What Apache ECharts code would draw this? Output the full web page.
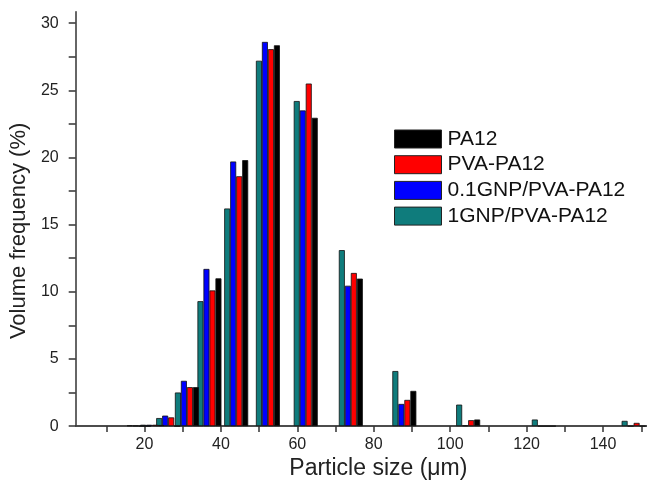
<!DOCTYPE html>
<html>
<head>
<meta charset="utf-8">
<script src="https://cdn.jsdelivr.net/npm/echarts@6/dist/echarts.min.js"></script>
<style>
html,body{margin:0;padding:0;background:#fff;}
#chart{width:647px;height:485px;}
</style>
</head>
<body>
<div id="chart"></div>
<script>
// Particle size bin centres (µm)
const sizes = [18.5, 22, 26.2, 31.1, 37, 44, 52.3, 62.2, 74, 88, 104.7, 124.5, 148];
// Volume frequency (%)
const pa12   = [0,    0.08, 0,    2.9,  11.0, 19.8, 28.35, 22.95, 10.98, 2.62, 0.49, 0,    0];
const pvaPa12 = [0,   0.1,  0.65, 2.9,  10.1, 18.6, 28.06, 25.5,  11.4,  1.95, 0.44, 0,    0.24];
const gnp01  = [0.03, 0.1,  0.78, 3.37, 11.7, 19.7, 28.6,  23.5,  10.45, 1.65, 0.05, 0,    0];
const gnp1   = [0.05, 0.1,  0.6,  2.5,  9.3,  16.2, 27.2,  24.2,  13.1,  4.1,  1.6,  0.49, 0.39];

const xTicks = [10, 20, 30, 40, 50, 60, 70, 80, 90, 100, 110, 120, 130, 140, 150];
const xLabels = [20, 40, 60, 80, 100, 120, 140];
const yTicks = [0, 2.5, 5, 7.5, 10, 12.5, 15, 17.5, 20, 22.5, 25, 27.5, 30];
const yLabels = [0, 5, 10, 15, 20, 25, 30];

const names = ['PA12', 'PVA-PA12', '0.1GNP/PVA-PA12', '1GNP/PVA-PA12'];
const colors = {'PA12': '#000000', 'PVA-PA12': '#ff0000', '0.1GNP/PVA-PA12': '#0000ff', '1GNP/PVA-PA12': '#0f7c7c'};
const seriesOrder = [['1GNP/PVA-PA12', gnp1], ['0.1GNP/PVA-PA12', gnp01], ['PVA-PA12', pvaPa12], ['PA12', pa12]];

const font = 'Liberation Sans, Arial, sans-serif';
const chart = echarts.init(document.getElementById('chart'), null, {renderer: 'canvas'});

chart.setOption({
  animation: false,
  backgroundColor: '#fff',
  textStyle: {fontFamily: font},
  grid: {left: 71, right: 0, top: 11.7, bottom: 50, containLabel: false},
  legend: {
    orient: 'vertical', left: 394, top: 128.5, padding: 0,
    itemWidth: 47, itemHeight: 18, itemGap: 4.7,
    icon: 'rect',
    data: names,
    textStyle: {fontSize: 21, lineHeight: 21, color: '#111', fontFamily: font, padding: [0, 0, 0, 1]},
    itemStyle: {borderColor: '#222', borderWidth: 1}
  },
  xAxis: [{
    type: 'value', min: 2, max: 151.5,
    name: 'Particle size (\u03bcm)', nameLocation: 'middle', nameGap: 29,
    nameTextStyle: {fontSize: 23, color: '#222', fontFamily: font, padding: [0, 0, 0, 34]},
    axisLine: {show: true, onZero: false, lineStyle: {color: '#333', width: 1.5}},
    axisTick: {show: true, inside: false, length: 6, customValues: xTicks, lineStyle: {color: '#333', width: 1.5}},
    axisLabel: {customValues: xLabels, fontSize: 16, color: '#222', margin: 10, fontFamily: font},
    splitLine: {show: false}
  }, {
    type: 'value', position: 'top', min: 2, max: 151.5,
    axisLine: {show: true, lineStyle: {color: '#444', width: 1.5}},
    axisTick: {show: false}, axisLabel: {show: false}, splitLine: {show: false}
  }],
  yAxis: {
    type: 'value', min: 0, max: 30.85,
    name: 'Volume frequency (%)', nameLocation: 'middle', nameGap: 37,
    nameTextStyle: {fontSize: 22, color: '#222', fontFamily: font, padding: [0, 24, 0, 0]},
    axisLine: {show: true, lineStyle: {color: '#333', width: 1.5}},
    axisTick: {show: true, inside: false, length: 7, customValues: yTicks, lineStyle: {color: '#333', width: 1.5}},
    axisLabel: {customValues: yLabels, fontSize: 16, color: '#222', margin: 17, fontFamily: font},
    splitLine: {show: false}
  },
  series: seriesOrder.map(([n, vals]) => ({
    name: n, type: 'bar', xAxisIndex: 0,
    barWidth: 6, barGap: '0%',
    itemStyle: {color: colors[n], borderColor: '#111', borderWidth: 0.8},
    data: sizes.map((s, i) => [s, vals[i]])
  }))
});
</script>
</body>
</html>
